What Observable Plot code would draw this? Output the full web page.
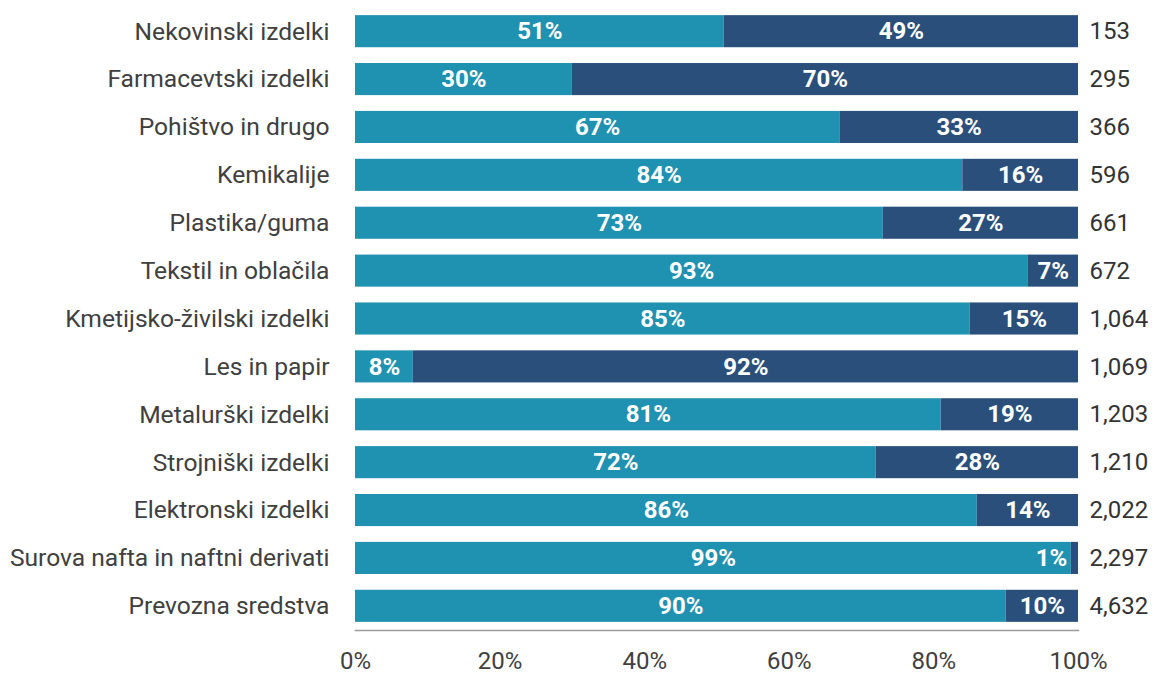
<!DOCTYPE html>
<html>
<head>
<meta charset="utf-8">
<script src="https://cdn.jsdelivr.net/npm/d3@7"></script>
<script src="https://cdn.jsdelivr.net/npm/@observablehq/plot@0.6"></script>
<style>
  html, body { margin: 0; padding: 0; background: #fff; }
  #chart svg { display: block; }
</style>
</head>
<body>
<div id="chart"></div>
<script>
const categories = [
  "Nekovinski izdelki",
  "Farmacevtski izdelki",
  "Pohištvo in drugo",
  "Kemikalije",
  "Plastika/guma",
  "Tekstil in oblačila",
  "Kmetijsko-živilski izdelki",
  "Les in papir",
  "Metalurški izdelki",
  "Strojniški izdelki",
  "Elektronski izdelki",
  "Surova nafta in naftni derivati",
  "Prevozna sredstva"
];
const shareLight = [51, 30, 67, 84, 73, 93, 85, 8, 81, 72, 86, 99, 90];
const shareDark  = [49, 70, 33, 16, 27, 7, 15, 92, 19, 28, 14, 1, 10];
const totals     = [153, 295, 366, 596, 661, 672, 1064, 1069, 1203, 1210, 2022, 2297, 4632];
const xTicks = [0, 0.2, 0.4, 0.6, 0.8, 1];

const rows = [];
categories.forEach((c, i) => {
  const a = shareLight[i] / 100, b = shareDark[i] / 100;
  rows.push({cat: c, series: "a", v: shareLight[i], x1: 0, x2: a});
  rows.push({cat: c, series: "b", v: shareDark[i], x1: a, x2: a + b});
});
rows.forEach(d => { d.small = d.v < 5; d.mid = (d.x1 + d.x2) / 2; });
const totalRows = categories.map((c, i) => ({cat: c, total: totals[i]}));

const chart = Plot.plot({
  width: 1161,
  height: 675,
  marginLeft: 355,
  marginRight: 83,
  marginTop: 7,
  marginBottom: 45,
  style: {fontFamily: "Roboto, sans-serif", fontSize: "24px", color: "#404040"},
  x: {domain: [0, 1], ticks: xTicks, tickFormat: d3.format(".0%"), label: null},
  y: {domain: categories, paddingInner: 0.33, paddingOuter: 0.17, round: false, label: null},
  color: {domain: ["a", "b"], range: ["#1f91b1", "#2a4f7b"]},
  marks: [
    Plot.barX(rows, {x1: "x1", x2: "x2", y: "cat", fill: "series"}),
    Plot.frame({anchor: "bottom", stroke: "#9a9a9a", strokeWidth: 1.5}),
    Plot.textX(rows.filter(d => !d.small), {x: "mid", y: "cat", text: d => d.v + "%", fill: "white", fontWeight: "bold", fontSize: 24}),
    Plot.textX(rows.filter(d => d.small), {x: "x1", y: "cat", text: d => d.v + "%", fill: "white", fontWeight: "bold", fontSize: 24, textAnchor: "end", dx: -4}),
    Plot.textX(totalRows, {x: 1, y: "cat", text: d => d3.format(",")(d.total), textAnchor: "start", dx: 11, fill: "#333", fontSize: 24}),
    Plot.axisY({tickSize: 0, tickPadding: 26, fontSize: 24.6, fill: "#404040"}),
    Plot.axisX({ticks: xTicks, tickFormat: d3.format(".0%"), tickSize: 0, tickPadding: 21, fontSize: 24, fill: "#404040", label: null})
  ]
});
document.getElementById("chart").appendChild(chart);
</script>
</body>
</html>
